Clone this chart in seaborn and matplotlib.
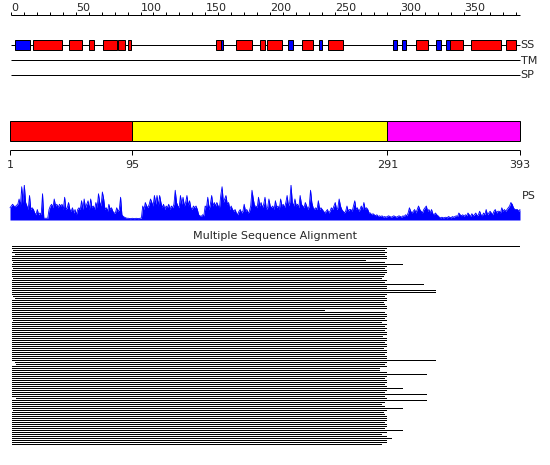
import numpy as np
import pandas as pd
import matplotlib
matplotlib.use("Agg")
import matplotlib.pyplot as plt
import seaborn as sns
from matplotlib.patches import Rectangle

sns.set_style("white")
plt.rcParams['font.family'] = ['DejaVu Sans']

# ---------------- data ----------------
SEQ_LEN = 393
ruler_minor = list(range(0, 391, 10))
ruler_major = [0, 50, 100, 150, 200, 250, 300, 350]

helix_start = [17, 45, 60, 71, 83, 90, 158, 174, 192, 198, 225, 245, 313, 339, 355, 382]
helix_end   = [39, 55, 64, 82, 88, 93, 162, 186, 196, 209, 233, 256, 322, 349, 378, 390]
strand_start = [3, 162, 214, 238, 295, 302, 328, 336]
strand_end   = [15, 164, 218, 240, 298, 305, 332, 339]
track_labels = ['SS', 'TM', 'SP']

domain_start = [1, 95, 291]
domain_end = [95, 291, 393]
domain_colors = ['#FF0000', '#FFFF00', '#FF00FF']
domain_ticks = [1, 95, 291, 393]

ps_values = [
    0.35, 0.4, 0.45, 0.4, 0.38, 0.42, 0.45, 0.6, 0.4, 0.95,
    0.5, 1.0, 0.5, 0.4, 0.3, 0.7, 0.3, 0.35, 0.3, 0.2,
    0.15, 0.3, 0.15, 0.2, 0.15, 0.75, 0.05, 0.05, 0.05, 0.05,
    0.3, 0.4, 0.45, 0.35, 0.6, 0.4, 0.45, 0.35, 0.45, 0.4,
    0.45, 0.3, 0.65, 0.3, 0.35, 0.5, 0.3, 0.25, 0.35, 0.2,
    0.3, 0.15, 0.3, 0.35, 0.3, 0.55, 0.3, 0.6, 0.35, 0.45,
    0.55, 0.3, 0.6, 0.35, 0.4, 0.3, 0.5, 0.35, 0.75, 0.5,
    0.4, 0.8, 0.6, 0.3, 0.35, 0.25, 0.45, 0.3, 0.35, 0.25,
    0.2, 0.2, 0.35, 0.25, 0.3, 0.65, 0.15, 0.1, 0.08, 0.06,
    0.05, 0.05, 0.04, 0.04, 0.05, 0.04, 0.04, 0.05, 0.04, 0.04,
    0.05, 0.06, 0.4, 0.3, 0.5, 0.4, 0.35, 0.45, 0.6, 0.5,
    0.4, 0.7, 0.45, 0.7, 0.4, 0.7, 0.5, 0.35, 0.45, 0.3,
    0.4, 0.35, 0.45, 0.3, 0.4, 0.35, 0.45, 0.85, 0.5, 0.4,
    0.35, 0.7, 0.45, 0.65, 0.4, 0.5, 0.7, 0.4, 0.55, 0.35,
    0.3, 0.4, 0.35, 0.4, 0.3, 0.15, 0.12, 0.1, 0.15, 0.12,
    0.4, 0.35, 0.65, 0.3, 0.45, 0.7, 0.4, 0.5, 0.4, 0.5,
    0.4, 0.35, 0.7, 0.95, 0.5, 0.6, 0.7, 0.45, 0.5, 0.3,
    0.4, 0.3, 0.25, 0.3, 0.2, 0.15, 0.25, 0.3, 0.2, 0.25,
    0.45, 0.25, 0.3, 0.2, 0.25, 0.4, 0.85, 0.6, 0.4, 0.4,
    0.35, 0.65, 0.4, 0.5, 0.35, 0.45, 0.65, 0.3, 0.35, 0.6,
    0.4, 0.35, 0.4, 0.3, 0.55, 0.35, 0.4, 0.3, 0.6, 0.4,
    0.45, 0.35, 0.5, 0.7, 0.4, 0.5, 1.0, 0.5, 0.4, 0.6,
    0.4, 0.45, 0.35, 0.7, 0.45, 0.4, 0.35, 0.5, 0.4, 0.3,
    0.4, 0.85, 0.5, 0.35, 0.3, 0.35, 0.3, 0.55, 0.3, 0.35,
    0.3, 0.25, 0.2, 0.25, 0.3, 0.2, 0.25, 0.35, 0.3, 0.4,
    0.5, 0.3, 0.35, 0.6, 0.4, 0.3, 0.25, 0.2, 0.25, 0.4,
    0.25, 0.3, 0.3, 0.25, 0.4, 0.55, 0.3, 0.35, 0.25, 0.3,
    0.4, 0.3, 0.5, 0.3, 0.35, 0.3, 0.2, 0.2, 0.15, 0.18,
    0.15, 0.12, 0.15, 0.1, 0.12, 0.1, 0.12, 0.08, 0.1, 0.08,
    0.1, 0.12, 0.1, 0.08, 0.1, 0.12, 0.1, 0.08, 0.1, 0.12,
    0.1, 0.08, 0.12, 0.1, 0.15, 0.12, 0.2, 0.35, 0.25, 0.2,
    0.25, 0.3, 0.2, 0.3, 0.4, 0.3, 0.25, 0.2, 0.3, 0.35,
    0.4, 0.25, 0.3, 0.2, 0.3, 0.18, 0.15, 0.2, 0.15, 0.12,
    0.08, 0.06, 0.08, 0.06, 0.07, 0.08, 0.06, 0.1, 0.08, 0.06,
    0.1, 0.08, 0.1, 0.12, 0.1, 0.2, 0.15, 0.12, 0.15, 0.1,
    0.15, 0.12, 0.2, 0.15, 0.1, 0.18, 0.12, 0.15, 0.2, 0.12,
    0.15, 0.25, 0.15, 0.12, 0.2, 0.15, 0.3, 0.15, 0.2, 0.25,
    0.2, 0.15, 0.25, 0.3, 0.2, 0.25, 0.25, 0.2, 0.35, 0.25,
    0.3, 0.25, 0.3, 0.35, 0.4, 0.5, 0.45, 0.35, 0.3, 0.3,
    0.3, 0.25, 0.3,
]

msa_title = 'Multiple Sequence Alignment'
msa_start = [1, 2, 1, 3, 1, 1, 1, 2, 1, 1,
             2, 1, 1, 1, 1, 2, 1, 1, 1, 1,
             1, 1, 1, 1, 2, 3, 1, 1, 1, 1,
             1, 1, 1, 1, 1, 1, 2, 1, 1, 1,
             1, 1, 1, 1, 1, 1, 1, 1, 1, 1,
             1, 1, 1, 1, 1, 1, 1, 3, 4, 1,
             1, 1, 1, 1, 1, 1, 1, 1, 1, 1,
             1, 1, 1, 1, 1, 4, 1, 1, 1, 1,
             1, 2, 1, 1, 1, 1, 1, 1, 1, 1,
             1, 1, 1, 1, 1, 1, 1, 1, 1]
msa_end = [290, 289, 290, 289, 290, 290, 274, 289, 303, 290,
           289, 290, 290, 289, 288, 286, 290, 289, 319, 290,
           290, 328, 328, 290, 289, 290, 290, 288, 289, 290,
           290, 242, 289, 290, 290, 289, 290, 286, 290, 289,
           290, 289, 290, 290, 287, 290, 290, 289, 290, 290,
           288, 290, 290, 289, 290, 290, 328, 290, 289, 290,
           285, 285, 290, 321, 290, 289, 290, 290, 289, 290,
           303, 290, 289, 321, 289, 290, 321, 289, 286, 289,
           303, 290, 288, 289, 290, 290, 290, 289, 290, 290,
           289, 303, 290, 286, 290, 294, 290, 290, 286]

# ---------------- layout ----------------
W, H = 550, 465
fig = plt.figure(figsize=(W / 100, H / 100), dpi=100)
fig.patch.set_facecolor('white')


def overlay(x0px, scale, first=1):
    ax = fig.add_axes([0, 0, 1, 1])
    ax.set_xlim(first - x0px / scale, first + (W - x0px) / scale)
    ax.set_ylim(H, 0)
    ax.axis('off')
    ax.patch.set_alpha(0)
    return ax


LW = 0.72  # one pixel
FS = 8

# ruler + SS/TM/SP tracks : residue 0 at px 11
axA = overlay(11, 1.295, first=0)
axA.hlines(15.5, 0, SEQ_LEN, color='black', lw=LW)
axA.vlines(ruler_minor, 12, 15.5, color='black', lw=LW)
for t in ruler_major:
    axA.text(t + 0.3, 10.6, str(t), ha='left', va='baseline', fontsize=FS)

track_y = [45.5, 60.5, 75.5]
axA.hlines(track_y, 0, SEQ_LEN, color='black', lw=LW)
for lab, y in zip(track_labels, track_y):
    axA.text(SEQ_LEN + 0.6, y, lab, ha='left', va='center', fontsize=FS)
for s, e in zip(helix_start, helix_end):
    axA.add_patch(Rectangle((s, 40.5), e - s, 10, facecolor='#FF0000',
                            edgecolor='black', lw=LW, zorder=3))
for s, e in zip(strand_start, strand_end):
    axA.add_patch(Rectangle((s, 40.5), e - s, 10, facecolor='#0000FF',
                            edgecolor='black', lw=LW, zorder=3))

# domains / PS : residue 1 at px 10
axB = overlay(10, 1.301, first=1)
for s, e, c in zip(domain_start, domain_end, domain_colors):
    axB.add_patch(Rectangle((s, 120.5), e - s, 20, facecolor=c,
                            edgecolor='black', lw=LW, zorder=3))
axB.hlines(150.5, 1, SEQ_LEN, color='black', lw=LW)
axB.vlines(domain_ticks, 150.5, 155, color='black', lw=LW)
for t in domain_ticks:
    axB.text(t, 165, str(t), ha='center', va='center', fontsize=FS)
axB.text(SEQ_LEN + 1.5, 196, 'PS', ha='left', va='center', fontsize=FS)

# PS profile axes
axC = fig.add_axes([0, (H - 220) / H, 1, 35 / H])
axC.set_xlim(axB.get_xlim())
axC.set_ylim(0, 1.0)
axC.axis('off')
axC.patch.set_alpha(0)
ps_df = pd.DataFrame({'res': np.arange(1, len(ps_values) + 1), 'ps': ps_values})
axC.fill_between(ps_df['res'], 0, ps_df['ps'], color='#0000FF', lw=0)
sns.lineplot(data=ps_df, x='res', y='ps', ax=axC, color='#0000FF', lw=0.6)
axC.set_xlabel('')
axC.set_ylabel('')

# MSA : residue 1 at px 12
axD = overlay(12, 1.293, first=1)
fig.text(0.5, 1 - 236 / H, msa_title, ha='center', va='center', fontsize=FS)
axD.hlines(245.5, 1, SEQ_LEN, color='black', lw=LW, antialiased=False)
msa_y = [247.5 + 2 * k for k in range(len(msa_end))]
axD.hlines(msa_y, msa_start, msa_end, color='black', lw=LW, antialiased=False)

fig.savefig('out.png', dpi=100)
